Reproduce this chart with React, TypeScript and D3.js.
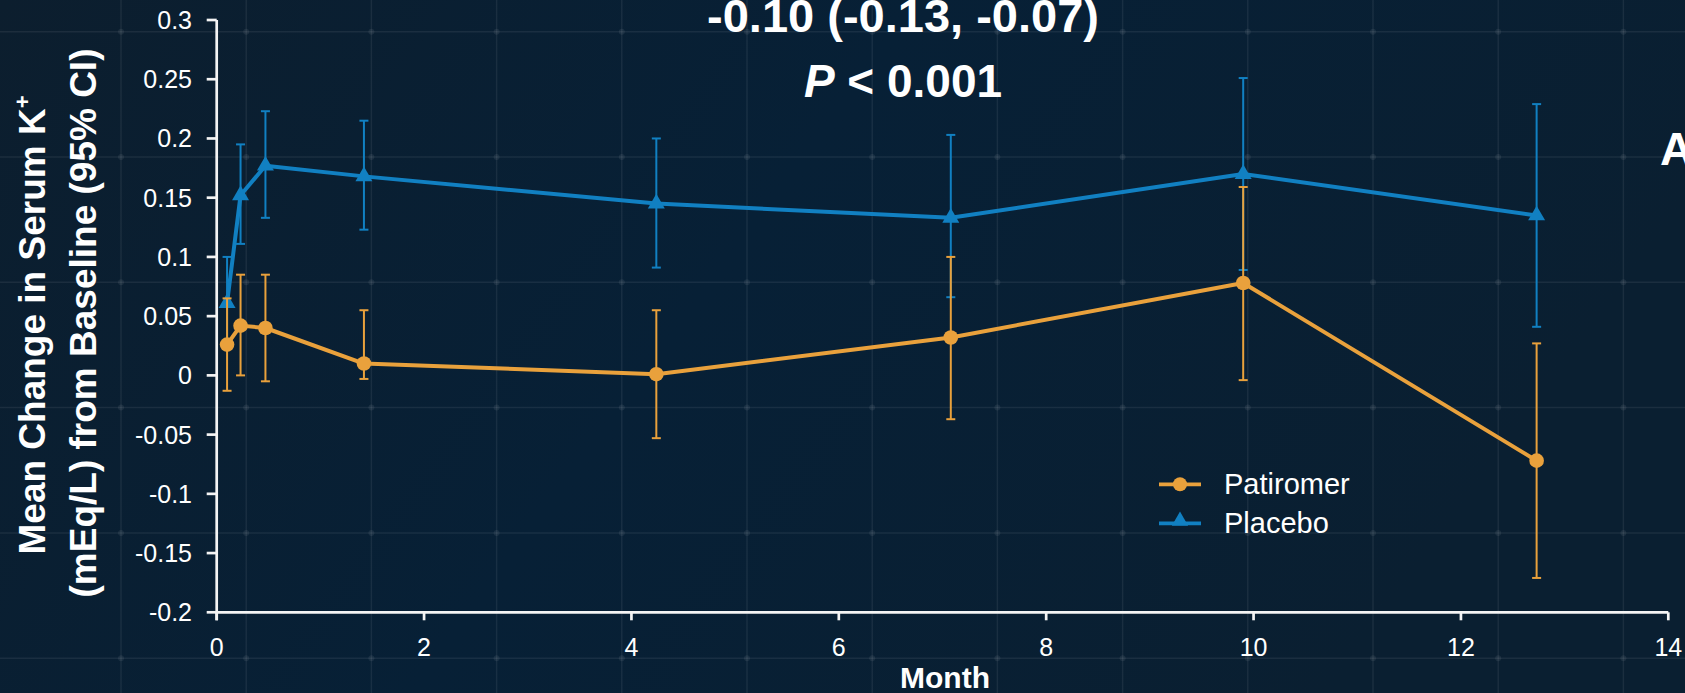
import React from "react";
import * as d3 from "d3";

const months = [0.1, 0.23, 0.47, 1.42, 4.24, 7.08, 9.9, 12.73];
const patiromerMean = [0.026, 0.042, 0.04, 0.01, 0.001, 0.032, 0.078, -0.072];
const patiromerLo = [-0.013, 0.0, -0.005, -0.003, -0.053, -0.037, -0.004, -0.171];
const patiromerHi = [0.065, 0.085, 0.085, 0.055, 0.055, 0.1, 0.159, 0.027];
const placeboMean = [0.061, 0.152, 0.177, 0.168, 0.145, 0.133, 0.17, 0.135];
const placeboLo = [0.03, 0.111, 0.133, 0.123, 0.091, 0.066, 0.089, 0.041];
const placeboHi = [0.1, 0.195, 0.223, 0.215, 0.2, 0.203, 0.251, 0.229];
const xTicks = [0, 2, 4, 6, 8, 10, 12, 14];
const yTicks = [-0.2, -0.15, -0.1, -0.05, 0, 0.05, 0.1, 0.15, 0.2, 0.25, 0.3];
const seriesNames = ["Patiromer", "Placebo"];

const W = 1685;
const H = 693;
const ORANGE = "#E9A13C";
const BLUE = "#1180C2";
const FONT = "'Liberation Sans', Arial, Helvetica, sans-serif";

export default function App() {
  const x = d3.scaleLinear().domain([0, 14]).range([216.7, 1668.3]);
  const y = d3.scaleLinear().domain([-0.2, 0.3]).range([612.3, 20]);
  const line = d3
    .line<number>()
    .x((_, i) => x(months[i]))
    .y((d) => y(d));
  const tri = d3.symbol().type(d3.symbolTriangle).size(125)();
  const triLegend = d3.symbol().type(d3.symbolTriangle).size(115)();

  const gridX = d3.range(0, 15).map((k) => -4.2 + 125.2 * k);
  const gridY = d3.range(0, 6).map((k) => 31.7 + 125.3 * k);

  const series = [
    { name: seriesNames[1], mean: placeboMean, lo: placeboLo, hi: placeboHi, color: BLUE, marker: "tri" },
    { name: seriesNames[0], mean: patiromerMean, lo: patiromerLo, hi: patiromerHi, color: ORANGE, marker: "circle" },
  ];
  const fmt = (v: number) => {
    if (v === 0) return "0";
    return String(+v.toFixed(2));
  };

  return (
    <svg
      width={W}
      height={H}
      style={{ position: "absolute", left: 0, top: 0, display: "block" }}
      fontFamily={FONT}
    >
      <defs>
        <linearGradient id="bg" x1="0" y1="0" x2="1" y2="0.3">
          <stop offset="0" stopColor="#0c1e2e" />
          <stop offset="0.5" stopColor="#072036" />
          <stop offset="1" stopColor="#0a1f31" />
        </linearGradient>
      </defs>
      <rect x={0} y={0} width={W} height={H} fill="url(#bg)" />
      <g stroke="#ffffff" strokeOpacity={0.07} strokeWidth={1.5}>
        {gridX.map((gx, i) => (
          <line key={"gx" + i} x1={gx} x2={gx} y1={0} y2={H} />
        ))}
        {gridY.map((gy, i) => (
          <line key={"gy" + i} x1={0} x2={W} y1={gy} y2={gy} />
        ))}
      </g>
      <g fill="#ffffff" fillOpacity={0.07}>
        {gridX.map((gx, i) =>
          gridY.map((gy, j) => <circle key={`d${i}-${j}`} cx={gx} cy={gy} r={3} />)
        )}
      </g>

      {/* axes */}
      <g stroke="#f4f4f4" strokeWidth={2.7} fill="none">
        <line x1={x(0)} x2={x(14)} y1={y(-0.2)} y2={y(-0.2)} />
        <line x1={x(0)} x2={x(0)} y1={y(0.3)} y2={y(-0.2) + 8} />
        {xTicks.map((t) => (
          <line key={"xt" + t} x1={x(t)} x2={x(t)} y1={y(-0.2)} y2={y(-0.2) + 8} />
        ))}
        {yTicks.map((t) => (
          <line key={"yt" + t} x1={x(0) - 10} x2={x(0)} y1={y(t)} y2={y(t)} />
        ))}
      </g>
      <g fill="#ffffff" fontSize={25}>
        {xTicks.map((t) => (
          <text key={"xl" + t} x={x(t)} y={656} textAnchor="middle">
            {t}
          </text>
        ))}
        {yTicks.map((t) => (
          <text key={"yl" + t} x={192} y={y(t)} textAnchor="end" dominantBaseline="central">
            {fmt(t)}
          </text>
        ))}
      </g>
      <text x={945} y={688} textAnchor="middle" fill="#ffffff" fontSize={30} fontWeight="bold">
        Month
      </text>
      <g fill="#ffffff" fontSize={37} fontWeight="bold">
        <text transform="translate(45,325) rotate(-90)" textAnchor="middle">
          Mean Change in Serum K
          <tspan fontSize={22} dy={-15}>
            +
          </tspan>
        </text>
        <text transform="translate(96,323) rotate(-90)" textAnchor="middle">
          (mEq/L) from Baseline (95% CI)
        </text>
      </g>

      {/* series */}
      {series.map((s) => (
        <g key={s.name}>
          <g stroke={s.color} strokeWidth={2}>
            {months.map((m, i) => (
              <g key={i}>
                <line x1={x(m)} x2={x(m)} y1={y(s.lo[i])} y2={y(s.hi[i])} />
                <line x1={x(m) - 4.5} x2={x(m) + 4.5} y1={y(s.lo[i])} y2={y(s.lo[i])} />
                <line x1={x(m) - 4.5} x2={x(m) + 4.5} y1={y(s.hi[i])} y2={y(s.hi[i])} />
              </g>
            ))}
          </g>
          <path d={line(s.mean) || ""} fill="none" stroke={s.color} strokeWidth={4} strokeLinejoin="round" />
          <g fill={s.color}>
            {months.map((m, i) =>
              s.marker === "circle" ? (
                <circle key={i} cx={x(m)} cy={y(s.mean[i])} r={7.3} />
              ) : (
                <path key={i} d={tri || ""} transform={`translate(${x(m)},${y(s.mean[i])})`} />
              )
            )}
          </g>
        </g>
      ))}

      {/* legend */}
      <g>
        <line x1={1159} x2={1201} y1={484.3} y2={484.3} stroke={ORANGE} strokeWidth={3.8} />
        <circle cx={1180} cy={484.3} r={7} fill={ORANGE} />
        <text x={1224} y={484.3} fill="#ffffff" fontSize={29} dominantBaseline="central">
          {seriesNames[0]}
        </text>
        <line x1={1159} x2={1201} y1={523.3} y2={523.3} stroke={BLUE} strokeWidth={3.8} />
        <path d={triLegend || ""} transform="translate(1180,521)" fill={BLUE} />
        <text x={1224} y={523.3} fill="#ffffff" fontSize={29} dominantBaseline="central">
          {seriesNames[1]}
        </text>
      </g>

      {/* annotations */}
      <g fill="#ffffff" fontWeight="bold" fontSize={46}>
        <text x={903} y={31.7} textAnchor="middle" fontSize={47}>
          -0.10 (-0.13, -0.07)
        </text>
        <text x={903} y={96.7} textAnchor="middle">
          <tspan fontStyle="italic">P</tspan> &lt; 0.001
        </text>
        <text x={1660} y={165}>
          A
        </text>
      </g>
    </svg>
  );
}
